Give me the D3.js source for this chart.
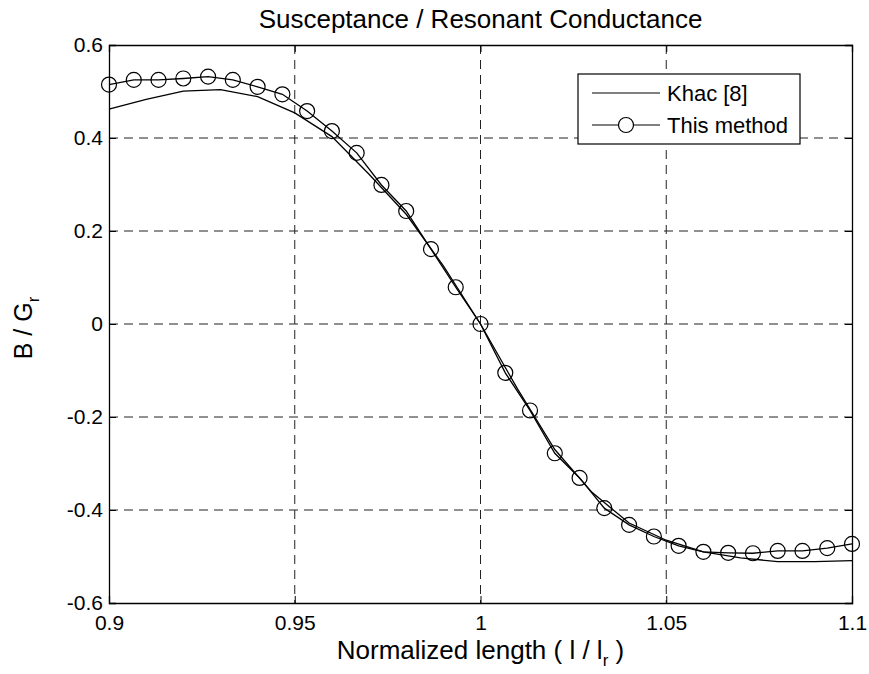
<!DOCTYPE html>
<html>
<head>
<meta charset="utf-8">
<script src="https://cdn.jsdelivr.net/npm/d3@7"></script>
<style>
  body { margin: 0; background: #fff; }
  svg text { font-family: "Liberation Sans", Arial, sans-serif; fill: #000; }
</style>
</head>
<body>
<svg id="chart" width="869" height="674"></svg>
<script>
// Khac [8], sampled every 0.01
var khacX = [0.90, 0.91, 0.92, 0.93, 0.94, 0.95, 0.96, 0.97, 0.98, 0.99, 1.00,
             1.01, 1.02, 1.03, 1.04, 1.05, 1.06, 1.07, 1.08, 1.09, 1.10];
var khacY = [0.462, 0.483, 0.501, 0.504, 0.489, 0.454, 0.403, 0.322, 0.236, 0.125, 0.0,
             -0.14, -0.27, -0.362, -0.428, -0.465, -0.49, -0.503, -0.511, -0.511, -0.509];

// this method, 31 points from 0.9 to 1.1
var methodX = [0.9, 0.90667, 0.91333, 0.92, 0.92667, 0.93333, 0.94, 0.94667, 0.95333, 0.96,
               0.96667, 0.97333, 0.98, 0.98667, 0.99333, 1.0, 1.00667, 1.01333, 1.02, 1.02667,
               1.03333, 1.04, 1.04667, 1.05333, 1.06, 1.06667, 1.07333, 1.08, 1.08667, 1.09333, 1.1];
var methodY = [0.515, 0.525, 0.525, 0.528, 0.532, 0.525, 0.510, 0.494, 0.458, 0.415,
               0.368, 0.299, 0.243, 0.161, 0.079, 0.0, -0.105, -0.186, -0.278, -0.331,
               -0.396, -0.432, -0.457, -0.477, -0.490, -0.492, -0.493, -0.488, -0.488, -0.482, -0.473];

var xTicks = [0.9, 0.95, 1, 1.05, 1.1];
var yTicks = [-0.6, -0.4, -0.2, 0, 0.2, 0.4, 0.6];
var legendNames = ["Khac [8]", "This method"];

var dimensions = {
  width: 869,
  height: 674,
  margin: { top: 45, right: 17, bottom: 71, left: 109 },
};
dimensions.boundedWidth = dimensions.width - dimensions.margin.left - dimensions.margin.right;
dimensions.boundedHeight = dimensions.height - dimensions.margin.top - dimensions.margin.bottom;

var svg = d3.select("#chart");

var xScale = d3.scaleLinear().domain([0.9, 1.1]).range([0, dimensions.boundedWidth]);
var yScale = d3.scaleLinear().domain([-0.6, 0.6]).range([dimensions.boundedHeight, 0]);

var bounds = svg
  .append("g")
  .attr("transform", "translate(" + dimensions.margin.left + "," + dimensions.margin.top + ")");

// grid lines
bounds
  .selectAll(".vgrid")
  .data(xTicks.slice(1, -1))
  .enter()
  .append("line")
  .attr("x1", (d) => xScale(d))
  .attr("x2", (d) => xScale(d))
  .attr("y1", 0)
  .attr("y2", dimensions.boundedHeight)
  .attr("stroke", "#222")
  .attr("stroke-width", 1)
  .attr("stroke-dasharray", "9,6");

bounds
  .selectAll(".hgrid")
  .data(yTicks.slice(1, -1))
  .enter()
  .append("line")
  .attr("x1", 0)
  .attr("x2", dimensions.boundedWidth)
  .attr("y1", (d) => yScale(d))
  .attr("y2", (d) => yScale(d))
  .attr("stroke", "#222")
  .attr("stroke-width", 1)
  .attr("stroke-dasharray", "9,6");

// axes, ticks pointing inward on all four sides
var plain = (d) => String(d);
var xAxis = d3.axisBottom(xScale).tickValues(xTicks).tickSize(-7).tickPadding(12).tickFormat(plain);
var yAxis = d3.axisLeft(yScale).tickValues(yTicks).tickSize(-7).tickPadding(6).tickFormat(plain);

var gx = bounds.append("g").attr("transform", "translate(0," + dimensions.boundedHeight + ")").call(xAxis);
var gy = bounds.append("g").call(yAxis);
var gxTop = bounds.append("g").call(d3.axisTop(xScale).tickValues(xTicks).tickSize(-7).tickFormat(""));
var gyRight = bounds
  .append("g")
  .attr("transform", "translate(" + dimensions.boundedWidth + ",0)")
  .call(d3.axisRight(yScale).tickValues(yTicks).tickSize(-7).tickFormat(""));

[gx, gy, gxTop, gyRight].forEach(function (g) {
  g.select(".domain").attr("stroke", "#000").attr("stroke-width", 1.3);
  g.selectAll(".tick line").attr("stroke", "#000").attr("stroke-width", 1);
  g.selectAll("text").style("font-size", "21px").attr("fill", "#000");
});
gx.selectAll("text").attr("dy", "0.71em");

// Khac line
var khacData = khacX.map((x, i) => ({ x: x, y: khacY[i] }));
var methodData = methodX.map((x, i) => ({ x: x, y: methodY[i] }));

var line = d3
  .line()
  .x((d) => xScale(d.x))
  .y((d) => yScale(d.y));

bounds
  .append("path")
  .datum(khacData)
  .attr("d", line)
  .attr("fill", "none")
  .attr("stroke", "#000")
  .attr("stroke-width", 1.3);

bounds
  .append("path")
  .datum(methodData)
  .attr("d", line)
  .attr("fill", "none")
  .attr("stroke", "#000")
  .attr("stroke-width", 1.3);

bounds
  .selectAll(".marker")
  .data(methodData)
  .enter()
  .append("circle")
  .attr("cx", (d) => xScale(d.x))
  .attr("cy", (d) => yScale(d.y))
  .attr("r", 7.5)
  .attr("fill", "none")
  .attr("stroke", "#000")
  .attr("stroke-width", 1.2);

// legend
var legend = svg.append("g").attr("transform", "translate(578,74)");
legend
  .append("rect")
  .attr("width", 222)
  .attr("height", 70)
  .attr("fill", "#fff")
  .attr("stroke", "#000")
  .attr("stroke-width", 1.2);

legendNames.forEach(function (name, i) {
  var yy = 19 + i * 32;
  legend
    .append("line")
    .attr("x1", 14)
    .attr("x2", 82)
    .attr("y1", yy)
    .attr("y2", yy)
    .attr("stroke", "#000")
    .attr("stroke-width", 1);
  if (i == 1) {
    legend
      .append("circle")
      .attr("cx", 48)
      .attr("cy", yy)
      .attr("r", 7.5)
      .attr("fill", "#fff")
      .attr("stroke", "#000")
      .attr("stroke-width", 1.2);
  }
  legend
    .append("text")
    .attr("x", 89)
    .attr("y", yy)
    .attr("dy", "0.36em")
    .style("font-size", "22px")
    .text(name);
});

// title and labels
svg
  .append("text")
  .attr("x", dimensions.margin.left + dimensions.boundedWidth / 2)
  .attr("y", 28)
  .attr("text-anchor", "middle")
  .style("font-size", "26px")
  .text("Susceptance / Resonant Conductance");

var xLabel = svg
  .append("text")
  .attr("x", dimensions.margin.left + dimensions.boundedWidth / 2)
  .attr("y", 659)
  .attr("text-anchor", "middle")
  .style("font-size", "26px");
xLabel.append("tspan").text("Normalized length ( l / l");
xLabel.append("tspan").attr("dy", 7).style("font-size", "17px").text("r");
xLabel.append("tspan").attr("dy", -7).text(" )");

var yLabel = svg
  .append("text")
  .attr("transform", "translate(32," + (dimensions.margin.top + dimensions.boundedHeight / 2 + 4) + ") rotate(-90)")
  .attr("text-anchor", "middle")
  .style("font-size", "25px");
yLabel.append("tspan").text("B / G");
yLabel.append("tspan").attr("dy", 7).style("font-size", "17px").text("r");
</script>
</body>
</html>
